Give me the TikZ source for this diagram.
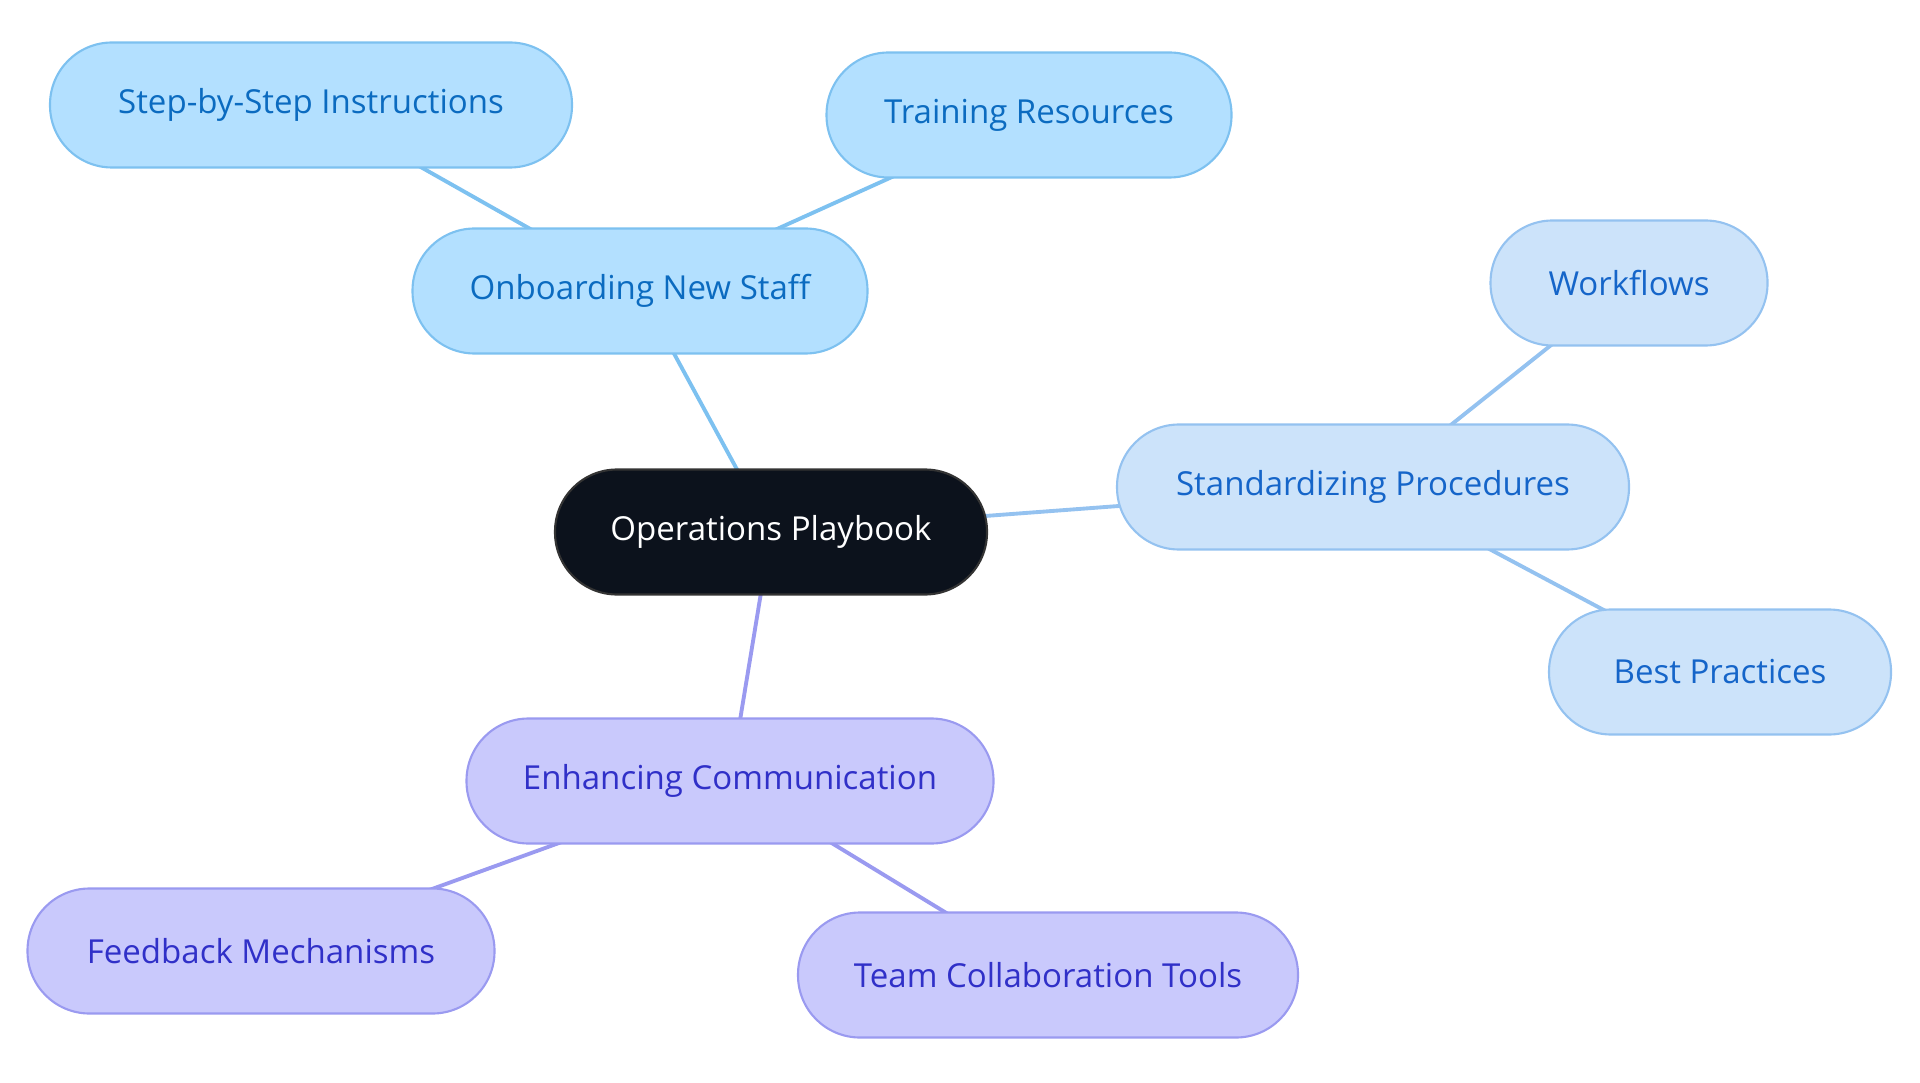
\documentclass[tikz,border=0pt]{standalone}
\usepackage{fontspec}
\setmainfont{Open Sans}
\usepackage{tikz}
\usetikzlibrary{backgrounds}
\definecolor{rootfill}{HTML}{0C121C}
\definecolor{bluefill}{HTML}{B3E0FF}
\definecolor{blueline}{HTML}{7DC1F0}
\definecolor{bluetext}{HTML}{0B6BC0}
\definecolor{stdfill}{HTML}{CCE3FA}
\definecolor{stdline}{HTML}{94C2F0}
\definecolor{stdtext}{HTML}{1565C9}
\definecolor{purfill}{HTML}{C9C9FC}
\definecolor{purline}{HTML}{9A9AF0}
\definecolor{purtext}{HTML}{3030C8}

\begin{document}
\begin{tikzpicture}[
    box/.style={rectangle, rounded corners=0.62cm, minimum height=1.25cm, inner sep=0pt,
      line width=0.6pt, font=\fontsize{9.4}{11}\selectfont},
    rootbox/.style={box, fill=rootfill, draw=black!80, text=white},
    onbox/.style={box, fill=bluefill, draw=blueline, text=bluetext},
    stdbox/.style={box, fill=stdfill, draw=stdline, text=stdtext},
    combox/.style={box, fill=purfill, draw=purline, text=purtext},
    link/.style={line width=1.1pt}
  ]
  \useasboundingbox (0,0) rectangle (19.2,-10.83);
  % Mitte
  \node[rootbox, minimum width=4.32cm] (root) at (7.71,-5.32) {Operations Playbook};
  % Onboarding
  \node[onbox, minimum width=4.55cm] (onb) at (6.40,-2.91) {Onboarding New Staff};
  \node[onbox, minimum width=5.22cm] (steps) at (3.11,-1.05) {Step-by-Step Instructions};
  \node[onbox, minimum width=4.05cm] (train) at (10.29,-1.15) {Training Resources};
  % Standardisering
  \node[stdbox, minimum width=5.12cm] (std) at (13.73,-4.87) {Standardizing Procedures};
  \node[stdbox, minimum width=2.77cm] (flow) at (16.29,-2.83) {Workflows};
  \node[stdbox, minimum width=3.42cm] (best) at (17.20,-6.72) {Best Practices};
  % Kommunikasjon
  \node[combox, minimum width=5.27cm] (com) at (7.30,-7.81) {Enhancing Communication};
  \node[combox, minimum width=4.67cm] (feed) at (2.61,-9.51) {Feedback Mechanisms};
  \node[combox, minimum width=5.00cm] (team) at (10.48,-9.75) {Team Collaboration Tools};
  % Linjer bak boksene
  \begin{scope}[on background layer]
    \draw[link, blueline] (root.center) -- (onb.center);
    \draw[link, blueline] (onb.center) -- (steps.center);
    \draw[link, blueline] (onb.center) -- (train.center);
    \draw[link, stdline] (root.center) -- (std.center);
    \draw[link, stdline] (std.center) -- (flow.center);
    \draw[link, stdline] (std.center) -- (best.center);
    \draw[link, purline] (root.center) -- (com.center);
    \draw[link, purline] (com.center) -- (feed.center);
    \draw[link, purline] (com.center) -- (team.center);
  \end{scope}
\end{tikzpicture}
\end{document}
